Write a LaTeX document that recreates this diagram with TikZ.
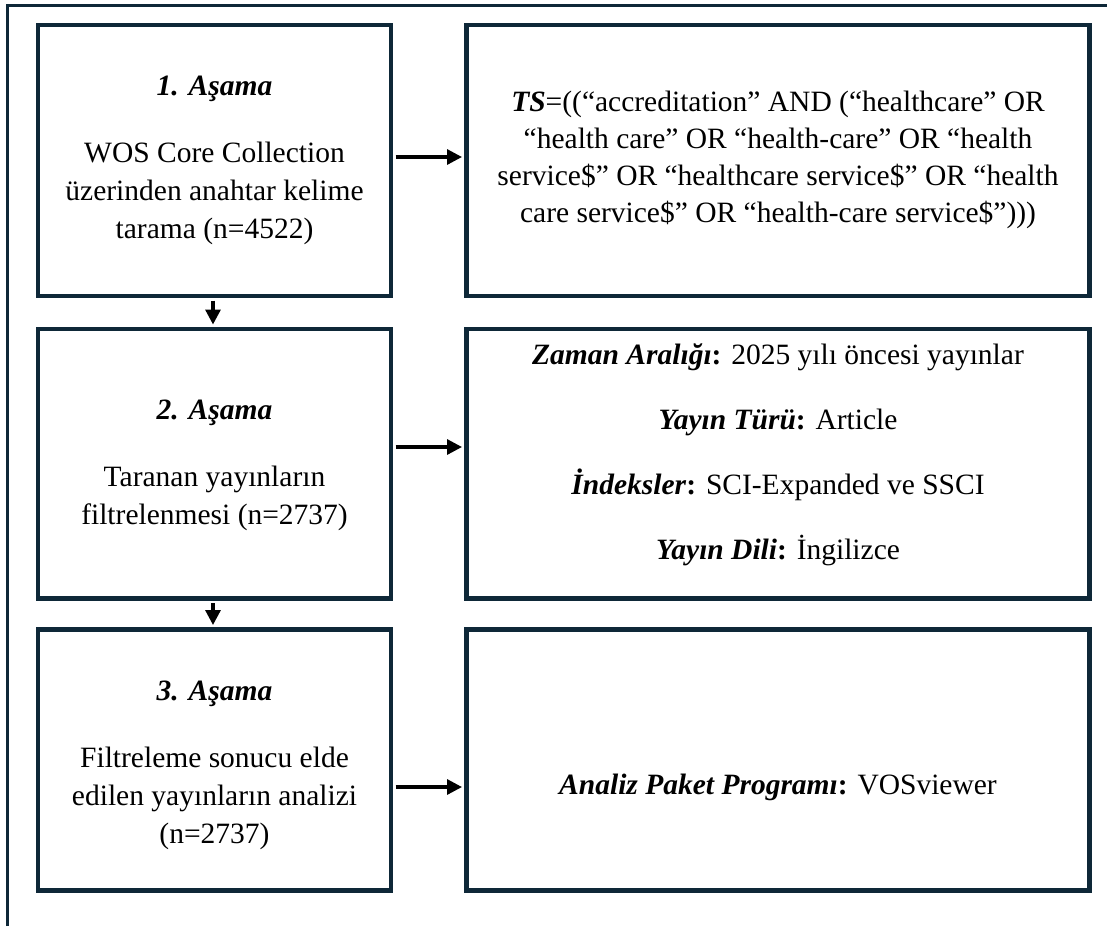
\documentclass[tikz,border=0pt]{standalone}
\usepackage{fontspec}
\setmainfont{Liberation Serif}
\usetikzlibrary{arrows.meta}
\definecolor{framecol}{RGB}{14,40,56}
\begin{document}
\begin{tikzpicture}[x=1pt,y=-1pt,
  lbox/.style={draw=framecol, line width=4.5pt, minimum width=353pt, inner sep=0pt},
  rbox/.style={draw=framecol, line width=4.5pt, minimum width=623pt, inner sep=0pt},
  ltext/.style={align=center, inner sep=0pt, font=\fontsize{29.5}{38}\selectfont},
  arr/.style={-{Triangle[length=15pt,width=15pt]}, line width=3.2pt, black, shorten <=2.25pt, shorten >=2.25pt}]
\useasboundingbox (0,0) rectangle (1107,926);
\fill[white] (0,0) rectangle (1107,926);
% outer frame (top and left only)
\coordinate (fa) at (7.5,926);
\coordinate (fc) at (7.5,5.5);
\coordinate (fb) at (1107,5.5);
\draw[framecol, line width=3pt] (fa) -- (fc) -- (fb);
% boxes
\node[lbox, minimum height=271pt] (b1) at (214.5,160.5) {};
\node[lbox, minimum height=269.5pt] (b2) at (214.5,463.75) {};
\node[lbox, minimum height=261pt] (b3) at (214.5,760) {};
\node[rbox, minimum height=271pt] (r1) at (778,160.5) {};
\node[rbox, minimum height=269.5pt] (r2) at (778,463.75) {};
\node[rbox, minimum height=261pt] (r3) at (778,760) {};
% texts
\node[ltext] (t1) at (214.5,160) {\textbf{\textit{1. Aşama}}\\[29pt]WOS Core Collection\\üzerinden anahtar kelime\\tarama (n=4522)};
\node[ltext] (t2) at (214.5,465) {\textbf{\textit{2. Aşama}}\\[29pt]Taranan yayınların\\filtrelenmesi (n=2737)};
\node[ltext] (t3) at (214.5,765) {\textbf{\textit{3. Aşama}}\\[29pt]Filtreleme sonucu elde\\edilen yayınların analizi\\(n=2737)};
\node[align=center, inner sep=0pt, font=\fontsize{29.5}{37}\selectfont] (u1) at (778,160)
  {\textbf{\textit{TS}}=((“accreditation” AND (“healthcare” OR\\“health care” OR “health-care” OR “health\\service\$” OR “healthcare service\$” OR “health\\care service\$” OR “health-care service\$”)))};
\node[align=center, inner sep=0pt, font=\fontsize{29.5}{65}\selectfont] (u2) at (778,455)
  {\textbf{\textit{Zaman Aralığı}:} 2025 yılı öncesi yayınlar\\\textbf{\textit{Yayın Türü}:} Article\\\textbf{\textit{İndeksler}:} SCI-Expanded ve SSCI\\\textbf{\textit{Yayın Dili}:} İngilizce};
\node[inner sep=0pt, font=\fontsize{29.5}{37}\selectfont] (u3) at (778,787)
  {\textbf{\textit{Analiz Paket Programı}:} VOSviewer};
% arrows
\draw[arr] ([yshift=3.5pt]b1.east) -- ([yshift=3.5pt]r1.west);
\draw[arr] ([yshift=16.75pt]b2.east) -- ([yshift=16.75pt]r2.west);
\draw[arr] ([yshift=-27pt]b3.east) -- ([yshift=-27pt]r3.west);
\draw[arr] ([xshift=-1.5pt]b1.south) -- ([xshift=-1.5pt]b2.north);
\draw[arr] ([xshift=-1.5pt]b2.south) -- ([xshift=-1.5pt]b3.north);
\end{tikzpicture}
\end{document}
